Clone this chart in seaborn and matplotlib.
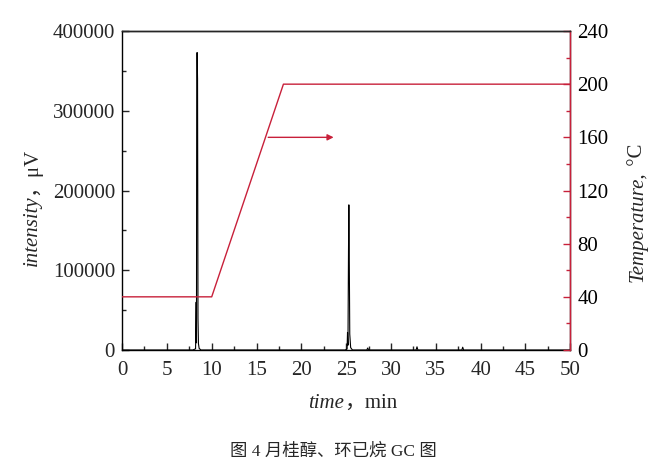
import matplotlib
matplotlib.use('Agg')
import matplotlib.pyplot as plt
import seaborn as sns
import numpy as np

# data
time_min = [0.0, 7.9, 8.2, 8.27, 8.3, 8.33, 8.37, 8.42, 8.47, 8.52, 8.6, 8.8,
            24.9, 25.1, 25.15, 25.2, 25.26, 25.3, 25.34, 25.4, 25.5, 25.7,
            27.3, 27.4, 27.5, 32.8, 32.9, 33.0, 37.9, 38.0, 38.1, 50.0]
intensity = [0, 0, 1500, 60000, 9000, 340000, 373000, 340000, 40000, 8000, 2000, 0,
             0, 1500, 22000, 6000, 125000, 182000, 125000, 20000, 3000, 0,
             0, 2500, 0, 0, 4000, 0, 0, 3500, 0, 0]

# oven program
temp_time = [0, 10, 18, 50]
temp_c = [40, 40, 200, 200]

# arrow pointing to the right axis
arrow_from = (16.3, 160)
arrow_to = (23.6, 160)

caption = '图 4 月桂醇、环已烷 GC 图'

sns.set_style('ticks')
plt.rcParams['font.family'] = ['Liberation Serif', 'Noto Sans CJK SC']
plt.rcParams['font.size'] = 15
plt.rcParams['axes.linewidth'] = 1.0

red = '#c8203a'

fig = plt.figure(figsize=(6.67, 4.74), dpi=100)
ax = fig.add_axes([0.183, 0.2616, 0.672, 0.673])

sns.lineplot(x=time_min, y=intensity, ax=ax, color='black', lw=0.8, sort=False)
ax.set_xlim(0, 50)
ax.set_ylim(0, 400000)
ax.set_xticks(np.arange(0, 51, 5))
ax.set_xticks(np.arange(0, 51, 2.5), minor=True)
ax.set_yticks(np.arange(0, 400001, 100000))
ax.set_yticks(np.arange(0, 400001, 50000), minor=True)
ax.tick_params(which='both', direction='in', top=False, right=False, labelsize=15)
ax.tick_params(which='major', length=5, width=1)
ax.tick_params(which='minor', length=3, width=1)
ax.tick_params(axis='x', which='major', pad=8)
ax.tick_params(axis='y', which='major', pad=5)
for s in ax.spines.values():
    s.set_color('black')

ax2 = ax.twinx()
sns.lineplot(x=temp_time, y=temp_c, ax=ax2, color=red, lw=1.0, sort=False)
ax2.set_ylim(0, 240)
ax2.set_yticks(np.arange(0, 241, 40))
ax2.set_yticks(np.arange(0, 241, 20), minor=True)
ax2.tick_params(which='both', direction='in', colors=red, labelcolor='black', labelsize=15)
ax2.tick_params(which='major', length=5, width=1, pad=5)
ax2.tick_params(which='minor', length=3, width=1)
ax2.spines['right'].set_color(red)
ax2.spines['left'].set_visible(False)
ax2.spines['bottom'].set_visible(False)
ax2.set_ylabel('')
ax.set_ylabel('')
ax.set_xlabel('')

ax2.annotate('', xy=arrow_to, xytext=arrow_from,
             arrowprops=dict(arrowstyle='-|>', color=red, lw=1.0, mutation_scale=9,
                             shrinkA=0, shrinkB=0))

# axis labels built from italic + upright pieces
t1 = fig.text(308 / 667, 1 - 413 / 474, 'time', style='italic', fontsize=15, ha='left', va='bottom')
ax.annotate('，min', xy=(1, 0), xycoords=t1, ha='left', va='bottom', fontsize=15,
            annotation_clip=False)

t2 = fig.text(32 / 667, 1 - 266 / 474, 'intensity', style='italic', fontsize=15,
              rotation=90, ha='center', va='bottom')
ax.annotate('，μV', xy=(0.5, 1), xycoords=t2, rotation=90, ha='center', va='bottom',
            fontsize=15, annotation_clip=False)

t3 = fig.text(638 / 667, 1 - 282 / 474, 'Temperature,', style='italic', fontsize=15,
              rotation=90, ha='center', va='bottom')
ax.annotate(' °C', xy=(0.5, 1), xycoords=t3, rotation=90, ha='center', va='bottom',
            fontsize=15, annotation_clip=False)

fig.text(0.5, 1 - 451 / 474, caption, ha='center', va='center', fontsize=12.5)

fig.savefig('out.png', dpi=100)
